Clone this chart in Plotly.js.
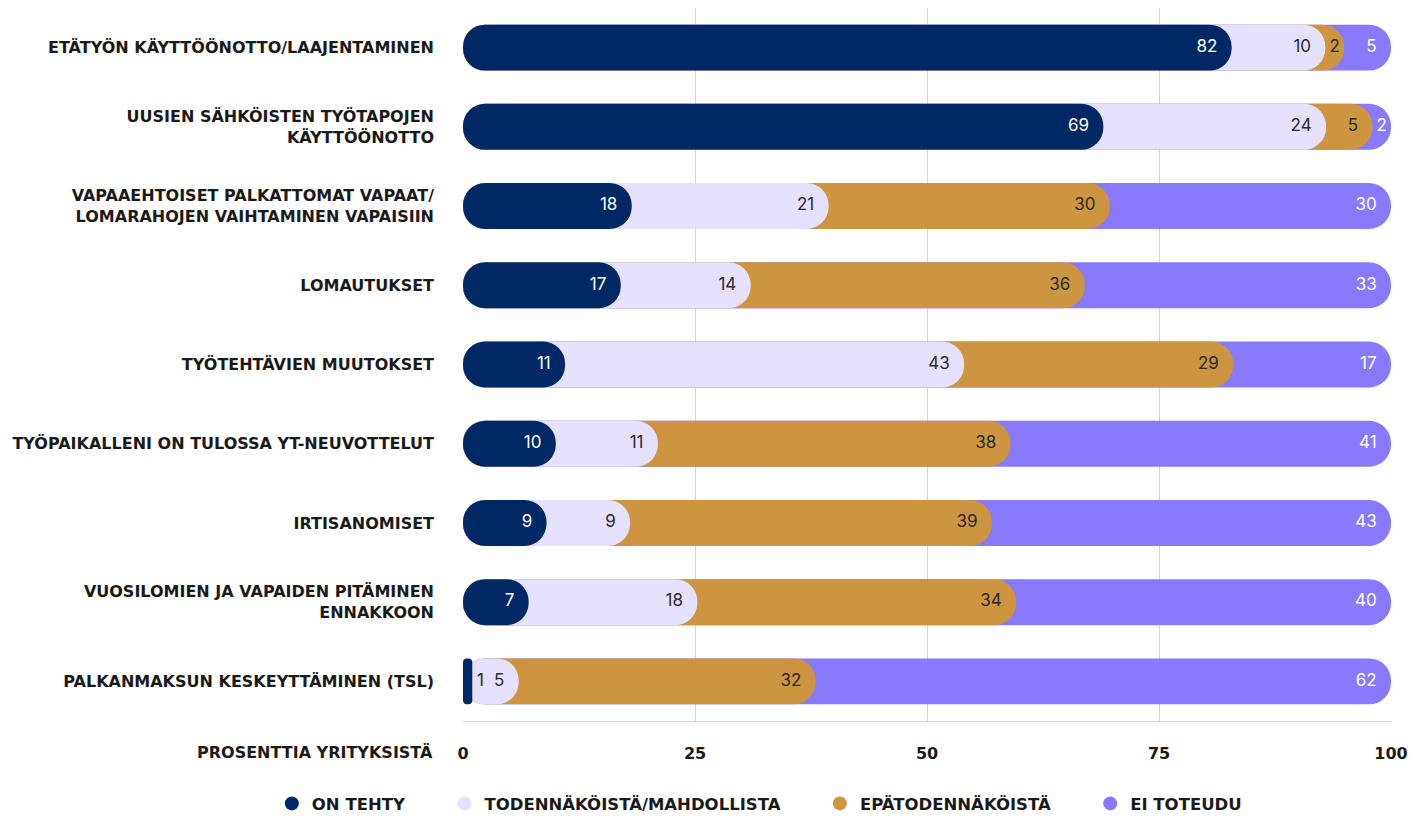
<!DOCTYPE html>
<html>
<head>
<meta charset="utf-8">
<script src="https://cdn.plot.ly/plotly-3.0.1.min.js"></script>
<style>
html,body{margin:0;padding:0;background:#fff;}
#chart{width:1419px;height:822px;}
</style>
</head>
<body>
<div id="chart"></div>
<script>
const categories = [
  "ETÄTYÖN KÄYTTÖÖNOTTO/LAAJENTAMINEN",
  "UUSIEN SÄHKÖISTEN TYÖTAPOJEN<br>KÄYTTÖÖNOTTO",
  "VAPAAEHTOISET PALKATTOMAT VAPAAT/<br>LOMARAHOJEN VAIHTAMINEN VAPAISIIN",
  "LOMAUTUKSET",
  "TYÖTEHTÄVIEN MUUTOKSET",
  "TYÖPAIKALLENI ON TULOSSA YT-NEUVOTTELUT",
  "IRTISANOMISET",
  "VUOSILOMIEN JA VAPAIDEN PITÄMINEN<br>ENNAKKOON",
  "PALKANMAKSUN KESKEYTTÄMINEN (TSL)"
];
const seriesNames = ["ON TEHTY", "TODENNÄKÖISTÄ/MAHDOLLISTA", "EPÄTODENNÄKÖISTÄ", "EI TOTEUDU"];
const onTehty          = [82, 69, 18, 17, 11, 10, 9, 7, 1];
const todennakoista    = [10, 24, 21, 14, 43, 11, 9, 18, 5];
const epatodennakoista = [2, 5, 30, 36, 29, 38, 39, 34, 32];
const eiToteudu        = [5, 2, 30, 33, 17, 41, 43, 40, 62];
const xTicks = [0, 25, 50, 75, 100];
const xAxisLabel = "PROSENTTIA YRITYKSISTÄ";

const colors = ["#002865", "#e5e1fe", "#cd9540", "#8879fd"];
const textColors = ["#ffffff", "#2a2a2a", "#2a2a2a", "#ffffff"];
const series = [onTehty, todennakoista, epatodennakoista, eiToteudu];

// cumulative ends (normalised so each row reaches 100)
const totals = categories.map((c, i) => series.reduce((s, arr) => s + arr[i], 0));
const cumul = series.map((arr, k) => categories.map((c, i) => {
  let s = 0;
  for (let j = 0; j <= k; j++) s += series[j][i];
  return s / totals[i] * 100;
}));
const starts = series.map((arr, k) => categories.map((c, i) => k === 0 ? 0 : cumul[k - 1][i]));

const FONT = "'DejaVu Sans', sans-serif";
const NUMFONT = "Inter, 'Open Sans', sans-serif";
const PAD = "\u00a0\u00a0\u00a0";
const traces = [];
// bars: drawn from the last series to the first so earlier segments sit on top
for (let k = series.length - 1; k >= 0; k--) {
  traces.push({
    type: "bar",
    orientation: "h",
    y: categories,
    x: cumul[k],
    base: 0,
    name: seriesNames[k],
    showlegend: false,
    marker: {color: colors[k], cornerradius: "50%", line: {width: 0}},
    customdata: series[k],
    hovertemplate: "%{y}: %{customdata}<extra>" + seriesNames[k] + "</extra>"
  });
}
// value labels near the end of each segment (small segments: centred / just outside)
for (let k = 0; k < series.length; k++) {
  const width = cumul[k].map((c, i) => c - starts[k][i]);
  const mode = width.map(w => w >= 3.5 ? "end" : (k === 0 ? "after" : "centre"));
  traces.push({
    type: "scatter",
    mode: "text",
    y: categories,
    x: mode.map((m, i) => m === "centre" ? (starts[k][i] + cumul[k][i]) / 2 : cumul[k][i]),
    text: series[k].map((v, i) => mode[i] === "end" ? v + PAD : (mode[i] === "after" ? "\u00a0" + v : String(v))),
    textposition: mode.map(m => m === "end" ? "middle left" : (m === "after" ? "middle right" : "middle center")),
    textfont: {family: NUMFONT, size: 17,
               color: mode.map(m => m === "after" ? "#2a2a2a" : textColors[k])},
    cliponaxis: false,
    showlegend: false,
    hoverinfo: "skip"
  });
}
// legend entries with round markers
for (let k = 0; k < series.length; k++) {
  traces.push({
    type: "scatter",
    mode: "markers",
    x: [null], y: [null],
    name: seriesNames[k] + "\u00a0\u00a0\u00a0\u00a0\u00a0\u00a0",
    marker: {color: colors[k], size: 14, symbol: "circle"},
    showlegend: true,
    hoverinfo: "skip"
  });
}

const layout = {
  width: 1419, height: 822,
  margin: {l: 463, r: 28, t: 8, b: 101, autoexpand: false},
  paper_bgcolor: "#ffffff",
  plot_bgcolor: "#ffffff",
  barmode: "overlay",
  bargap: 0.42,
  font: {family: FONT, color: "#1a1a1a"},
  hovermode: "closest",
  xaxis: {
    range: [0, 100],
    tickvals: xTicks,
    ticktext: xTicks.map(String),
    showgrid: true,
    gridcolor: "#d4d4d4",
    gridwidth: 1,
    zeroline: false,
    showline: true,
    linecolor: "#d4d4d4",
    linewidth: 1,
    ticks: "",
    ticklabelstandoff: 18,
    tickfont: {family: FONT, size: 16, weight: 700, color: "#1a1a1a"},
    fixedrange: true,
    automargin: false
  },
  yaxis: {
    type: "category",
    autorange: "reversed",
    showgrid: false,
    zeroline: false,
    ticks: "",
    ticklabelstandoff: 28,
    tickfont: {family: FONT, size: 16, weight: 700, color: "#1a1a1a"},
    fixedrange: true,
    automargin: false
  },
  legend: {
    orientation: "h",
    x: -0.206, xanchor: "left",
    y: -0.1405, yanchor: "bottom",
    font: {family: FONT, size: 16.5, weight: 700, color: "#1a1a1a"},
    itemclick: false, itemdoubleclick: false
  },
  annotations: [{
    text: xAxisLabel,
    xref: "paper", yref: "paper",
    x: 0, y: 0,
    xanchor: "right", yanchor: "top",
    xshift: -28, yshift: -20,
    showarrow: false,
    font: {family: FONT, size: 16, weight: 700, color: "#1a1a1a"}
  }],
  showlegend: true
};

Plotly.newPlot("chart", traces, layout, {displayModeBar: false});
</script>
</body>
</html>
